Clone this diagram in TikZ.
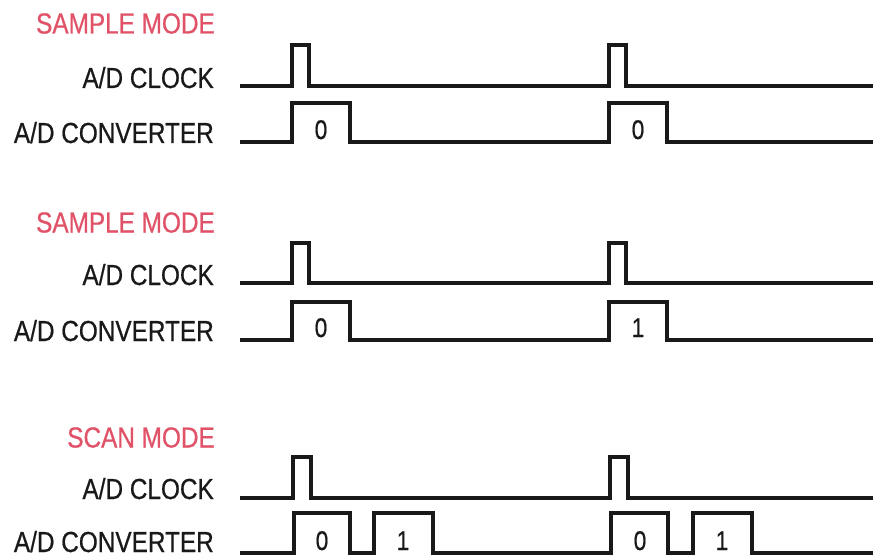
\documentclass[tikz,border=0pt]{standalone}
\usepackage{fontspec}
\setmainfont{Liberation Sans}[FakeStretch=0.84,FakeBold=0.6]
\usepackage{tikz}
\usetikzlibrary{positioning}
\definecolor{modered}{RGB}{224,82,104}

\begin{document}
\begin{tikzpicture}[x=1pt,y=-1pt,
        signal/.style={line width=4.2pt, line join=miter, black!90},
        siglabel/.style={anchor=base east, font=\fontsize{29}{30}\selectfont, text=black!90, inner sep=0pt},
        modetitle/.style={anchor=base east, font=\fontsize{29}{30}\selectfont, text=modered, inner sep=0pt},
        bitval/.style={anchor=base, font=\fontsize{27}{28}\selectfont, text=black!90, inner sep=0pt}]
        \useasboundingbox (0,0) rectangle (873,559);

        % sample mode, same channel
        \node[modetitle] (title1) at (215,33.5) {SAMPLE MODE};
        \node[siglabel] (clk1) at (214,88) {A/D CLOCK};
        \node[siglabel] (conv1) at (214,143) {A/D CONVERTER};
        \draw[signal] (240,86) -| (292,45) -| (309,86) -- (609,86) |- (626,45) |- (873,86);
        \draw[signal] (240,142) -| (292,103) -| (350,142) -- (609,142) |- (667,103) |- (873,142);
        \node[bitval] (b1a) at (321,139) {0};
        \node[bitval] (b1b) at (638,139) {0};

        % sample mode, next channel
        \node[modetitle] (title2) at (215,232.5) {SAMPLE MODE};
        \node[siglabel] (clk2) at (214,285) {A/D CLOCK};
        \node[siglabel] (conv2) at (214,341) {A/D CONVERTER};
        \draw[signal] (240,283) -| (292,243) -| (309,283) -- (609,283) |- (626,243) |- (873,283);
        \draw[signal] (240,340) -| (292,302) -| (350,340) -- (609,340) |- (667,302) |- (873,340);
        \node[bitval] (b2a) at (321,337) {0};
        \node[bitval] (b2b) at (638,337) {1};

        % scan mode
        \node[modetitle] (title3) at (215,447.5) {SCAN MODE};
        \node[siglabel] (clk3) at (214,499) {A/D CLOCK};
        \node[siglabel] (conv3) at (214,552) {A/D CONVERTER};
        \draw[signal] (240,498) -| (293,457) -| (311,498) -- (610,498) |- (628,457) |- (873,498);
        \draw[signal] (240,553) -| (294,513) -| (350,553) -| (374,513) -| (433,553)
            -- (611,553) |- (668,513) |- (693,553) |- (752,513) |- (873,553);
        \node[bitval] (b3a) at (322,550) {0};
        \node[bitval] (b3b) at (403,550) {1};
        \node[bitval] (b3c) at (640,550) {0};
        \node[bitval] (b3d) at (722,550) {1};
\end{tikzpicture}
\end{document}
